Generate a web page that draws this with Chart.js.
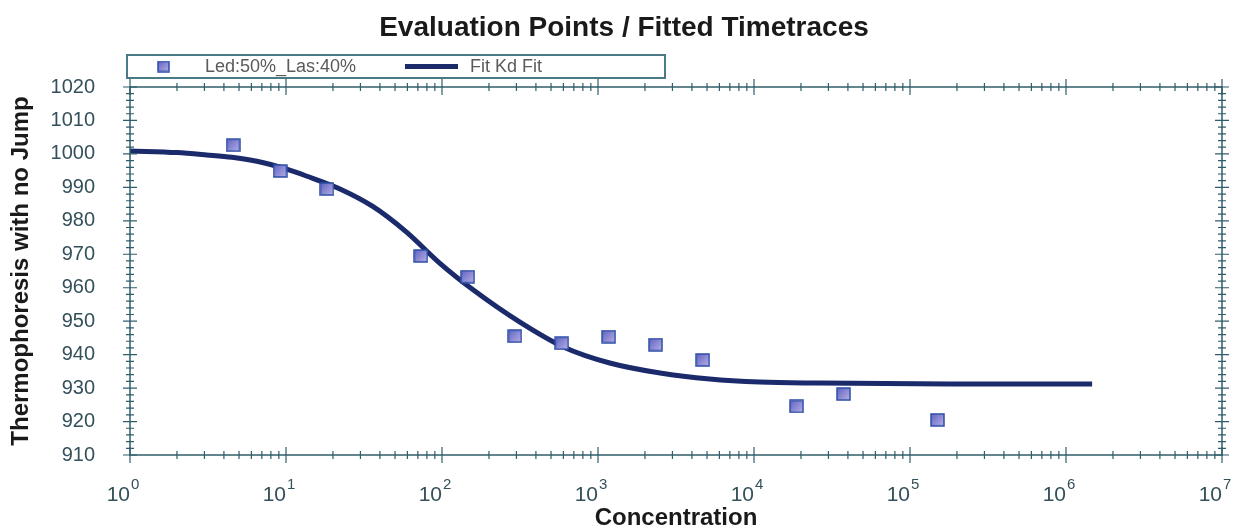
<!DOCTYPE html>
<html>
<head>
<meta charset="utf-8">
<title>Evaluation Points / Fitted Timetraces</title>
<script src="https://cdn.jsdelivr.net/npm/chart.js@4.4.1/dist/chart.umd.min.js"></script>
<style>
  html, body { margin: 0; padding: 0; background: #fff; }
  #contenedor { width: 1248px; height: 530px; }
</style>
</head>
<body>
<div id="contenedor"><canvas id="grafico"></canvas></div>
<script>
// Puntos de evaluación
const concentracion = [4.58, 9.16, 18.3, 73.2, 146, 293, 586, 1170, 2340, 4690, 18750, 37500, 150000];
const termoforesis = [1002.6, 994.9, 989.5, 969.5, 963.3, 945.5, 943.4, 945.4, 943.0, 938.4, 924.5, 928.2, 920.5];

// Curva "Fit Kd Fit" leída punto a punto
const concentracionAjuste = [1, 2, 3.1, 4.5, 6.5, 10, 13.5, 22, 36, 59, 97, 159, 316, 600, 1190, 2500, 5200, 10900, 26500, 180000, 1470000];
const valoresAjuste = [1000.9, 1000.4, 999.7, 999.0, 997.8, 995.5, 993.4, 989.6, 984.3, 976.7, 967.3, 959.3, 949.7, 942.3, 937.5, 934.5, 932.7, 931.8, 931.5, 931.2, 931.2];

// Marcas de los ejes
const yMarcas = [910, 920, 930, 940, 950, 960, 970, 980, 990, 1000, 1010, 1020];
const xExponentes = ['0', '1', '2', '3', '4', '5', '6', '7'];

const colorEje = '#2f5d6b';
const colorTexto = '#34505a';
const colorCurva = '#1b2a6b';
const fuente = '"Liberation Sans", Arial, sans-serif';

// Marcador cuadrado con degradado
function crearMarcador(w, h) {
    const c = document.createElement('canvas');
    c.width = w;
    c.height = h;
    const g = c.getContext('2d');
    const grad = g.createLinearGradient(0, 0, w, h);
    grad.addColorStop(0, '#5a5ec0');
    grad.addColorStop(1, '#bdb5e8');
    g.fillStyle = grad;
    g.fillRect(1, 1, w - 2, h - 2);
    g.strokeStyle = '#2c4da6';
    g.lineWidth = 1.5;
    g.strokeRect(1, 1, w - 2, h - 2);
    return c;
}
const marcador = crearMarcador(15, 14);
const marcadorLeyenda = crearMarcador(13, 12);

// Marco, marcas de los ejes y etiquetas 10^n
const marcasEjes = {
    id: 'marcasEjes',
    afterDraw(chart) {
        const ctx = chart.ctx;
        const area = chart.chartArea;
        const x = chart.scales.x;
        const y = chart.scales.y;
        ctx.save();
        ctx.strokeStyle = colorEje;
        ctx.lineWidth = 1.5;
        ctx.strokeRect(area.left, area.top, area.right - area.left, area.bottom - area.top);

        ctx.lineWidth = 1.2;
        ctx.beginPath();
        y.ticks.forEach(t => {
            const py = y.getPixelForValue(t.value);
            const l = t.major ? 7 : 4;
            ctx.moveTo(area.left - l, py);
            ctx.lineTo(area.left + l, py);
            ctx.moveTo(area.right - l, py);
            ctx.lineTo(area.right + l, py);
        });
        x.ticks.forEach(t => {
            const px = x.getPixelForValue(t.value);
            const l = t.major ? 8 : 4;
            ctx.moveTo(px, area.bottom - l);
            ctx.lineTo(px, area.bottom + l);
            ctx.moveTo(px, area.top - l);
            ctx.lineTo(px, area.top + l);
        });
        ctx.stroke();

        ctx.fillStyle = colorTexto;
        ctx.textBaseline = 'middle';
        xExponentes.forEach(e => {
            const px = x.getPixelForValue(Math.pow(10, Number(e)));
            ctx.font = '21px ' + fuente;
            ctx.textAlign = 'right';
            ctx.fillText('10', px, area.bottom + 40);
            ctx.font = '15px ' + fuente;
            ctx.textAlign = 'left';
            ctx.fillText(e, px + 1, area.bottom + 30);
        });
        ctx.restore();
    }
};

// Leyenda enmarcada
const leyendaCaja = {
    id: 'leyendaCaja',
    afterDraw(chart) {
        const ctx = chart.ctx;
        const izq = chart.chartArea.left - 3;
        const arriba = chart.chartArea.top - 32;
        const ds = chart.data.datasets;
        ctx.save();
        ctx.strokeStyle = '#4a7a88';
        ctx.lineWidth = 2;
        ctx.strokeRect(izq, arriba, 538, 23);
        const cy = arriba + 11.5;
        ctx.drawImage(marcadorLeyenda, izq + 30, cy - 6);
        ctx.font = '18px ' + fuente;
        ctx.fillStyle = '#5a5a5a';
        ctx.textBaseline = 'middle';
        ctx.textAlign = 'left';
        ctx.fillText(ds[0].label, izq + 78, cy + 1);
        ctx.strokeStyle = colorCurva;
        ctx.lineWidth = 5;
        ctx.beginPath();
        ctx.moveTo(izq + 278, cy);
        ctx.lineTo(izq + 331, cy);
        ctx.stroke();
        ctx.fillText(ds[1].label, izq + 343, cy + 1);
        ctx.restore();
    }
};

new Chart(document.getElementById('grafico'), {
    type: 'scatter',
    data: {
        datasets: [{
            label: 'Led:50%_Las:40%',
            data: concentracion.map((c, i) => ({x: c, y: termoforesis[i]})),
            pointStyle: marcador,
            pointRadius: 7
        }, {
            type: 'line',
            label: 'Fit Kd Fit',
            data: concentracionAjuste.map((c, i) => ({x: c, y: valoresAjuste[i]})),
            borderColor: colorCurva,
            borderWidth: 5,
            pointRadius: 0,
            fill: false,
            cubicInterpolationMode: 'monotone',
            borderCapStyle: 'butt'
        }]
    },
    options: {
        responsive: true,
        maintainAspectRatio: false,
        animation: false,
        layout: {
            padding: 0
        },
        plugins: {
            legend: {display: false},
            tooltip: {enabled: false},
            title: {
                display: true,
                text: 'Evaluation Points / Fitted Timetraces',
                color: '#1a1a1a',
                font: {family: fuente, size: 28, weight: 'bold', lineHeight: 1.2},
                padding: {top: 11, bottom: 42.4}
            }
        },
        scales: {
            x: {
                type: 'logarithmic',
                min: 1,
                max: 1e7,
                afterBuildTicks: (scale) => {
                    const marcas = [];
                    xExponentes.forEach((e, i) => {
                        const base = Math.pow(10, Number(e));
                        marcas.push({value: base, major: true});
                        if (i < xExponentes.length - 1) {
                            for (let m = 2; m <= 9; m++) marcas.push({value: m * base, major: false});
                        }
                    });
                    scale.ticks = marcas;
                },
                afterFit: (scale) => { scale.height = 75; },
                ticks: {display: false},
                grid: {display: false},
                border: {display: false},
                title: {
                    display: true,
                    text: 'Concentration',
                    color: '#1a1a1a',
                    font: {family: fuente, size: 24, weight: 'bold', lineHeight: 1},
                    padding: {top: 0, bottom: 0}
                }
            },
            y: {
                min: 910,
                max: 1020,
                afterBuildTicks: (scale) => {
                    const marcas = [];
                    yMarcas.forEach((v, i) => {
                        marcas.push({value: v, major: true});
                        if (i < yMarcas.length - 1) {
                            for (let m = v + 2; m < yMarcas[i + 1]; m += 2) marcas.push({value: m, major: false});
                        }
                    });
                    scale.ticks = marcas;
                },
                afterFit: (scale) => { scale.width = 130; },
                ticks: {
                    autoSkip: false,
                    padding: 27,
                    color: colorTexto,
                    font: {family: fuente, size: 20},
                    callback: (v) => yMarcas.includes(v) ? String(v) : ''
                },
                grid: {display: false},
                border: {display: false},
                title: {
                    display: true,
                    text: 'Thermophoresis with no Jump',
                    color: '#1a1a1a',
                    font: {family: fuente, size: 24, weight: 'bold', lineHeight: 1},
                    padding: {top: 9, bottom: 0}
                }
            },
            // eje derecho vacío: solo reserva el margen del marco
            y2: {
                position: 'right',
                min: 910,
                max: 1020,
                afterFit: (scale) => { scale.width = 26; },
                ticks: {display: false},
                grid: {display: false},
                border: {display: false}
            }
        }
    },
    plugins: [marcasEjes, leyendaCaja]
});
</script>
</body>
</html>
